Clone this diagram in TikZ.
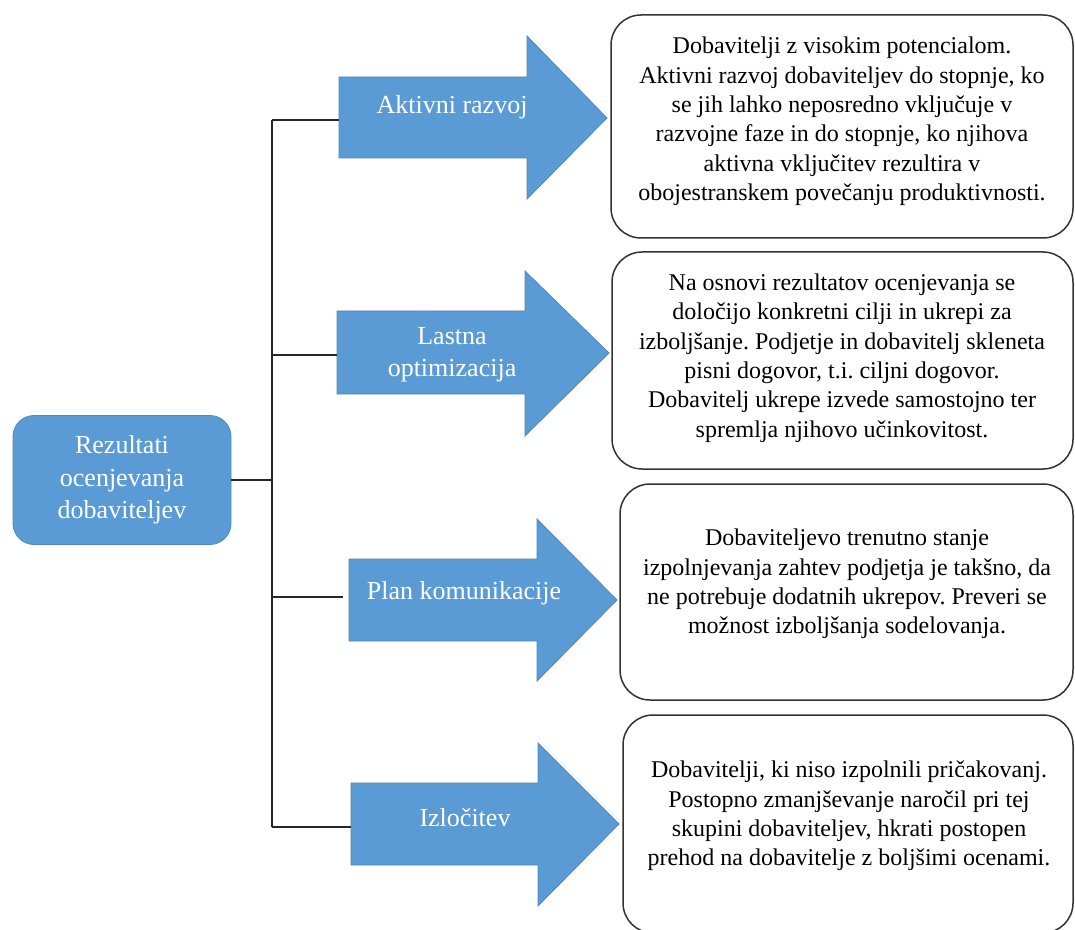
\documentclass[tikz,border=0pt]{standalone}
\usepackage{fontspec}
\setmainfont{Liberation Serif}
\frenchspacing
\definecolor{officeblue}{HTML}{5B9BD5}
\definecolor{boxline}{HTML}{333333}
\begin{document}
\begin{tikzpicture}[x=0.5pt,y=-0.5pt,
  bluefill/.style={fill=officeblue, draw=officeblue!88!black, line width=0.4pt},
  srcbox/.style={bluefill, rounded corners=10.5pt, inner sep=0pt, align=center,
    text=white, font={\fontsize{13}{16.25}\selectfont}},
  arrowtext/.style={text=white, align=center, inner sep=0pt,
    font={\fontsize{13}{16.25}\selectfont}},
  descbox/.style={draw=boxline, line width=0.75pt, fill=white, rounded corners=15pt, inner sep=0pt},
  desc/.style={align=center, inner sep=0pt, font={\fontsize{12}{14.7}\selectfont}},
  conn/.style={draw=black!85, line width=0.9pt}]
\useasboundingbox (0,0) rectangle (1075,930);
\clip (0,0) rectangle (1075,930);

% source box
\node[srcbox, minimum width=109pt, minimum height=64.5pt] (src) at (122,480)
  {Rezultati\\ocenjevanja\\dobaviteljev};

% junctions on the trunk and arrow tails
\coordinate (j1) at (272,120);
\coordinate (j2) at (272,355);
\coordinate (j3) at (272,597);
\coordinate (j4) at (272,827);
\coordinate (a1) at (339,120);
\coordinate (a2) at (337,355);
\coordinate (a3) at (343,597);
\coordinate (a4) at (351,827);

% block arrows
\path[bluefill] (339,77) -- (527,77) -- (527,36) -- (607,118) -- (527,199) -- (527,158) -- (339,158) -- cycle;
\path[bluefill] (337,311) -- (525,311) -- (525,271) -- (609,353) -- (525,436) -- (525,394) -- (337,394) -- cycle;
\path[bluefill] (349,559) -- (537,559) -- (537,519) -- (617,600) -- (537,681) -- (537,641) -- (349,641) -- cycle;
\path[bluefill] (351,783) -- (538,783) -- (538,743) -- (619,824) -- (538,906) -- (538,865) -- (351,865) -- cycle;

\node[arrowtext] (l1) at (452,107) {Aktivni razvoj};
\node[arrowtext] (l2) at (452,355) {Lastna\\optimizacija};
\node[arrowtext] (l3) at (464,593) {Plan komunikacije};
\node[arrowtext] (l4) at (465,818) {Izločitev};

% connectors
\draw[conn] (src.east) -- (src.east -| j1);
\draw[conn] (j1) -- (j4);
\draw[conn] (j1) -- (a1);
\draw[conn] (j2) -- (a2);
\draw[conn] (j3) -- (a3);
\draw[conn] (j4) -- (a4);

% description boxes
\node[descbox, minimum width=231pt, minimum height=111.5pt] (b1) at (842,126.5) {};
\node[descbox, minimum width=230.5pt, minimum height=108.5pt] (b2) at (842.5,360.5) {};
\node[descbox, minimum width=226.5pt, minimum height=108pt] (b3) at (846.5,592) {};
\node[descbox, minimum width=225pt, minimum height=109pt] (b4) at (848,824) {};

\node[desc] (d1) at (842,121.5) {Dobavitelji z visokim potencialom.\\
  Aktivni razvoj dobaviteljev do stopnje, ko\\
  se jih lahko neposredno vključuje v\\
  razvojne faze in do stopnje, ko njihova\\
  aktivna vključitev rezultira v\\
  obojestranskem povečanju produktivnosti.};
\node[desc] (d2) at (842,358) {Na osnovi rezultatov ocenjevanja se\\
  določijo konkretni cilji in ukrepi za\\
  izboljšanje. Podjetje in dobavitelj skleneta\\
  pisni dogovor, t.i. ciljni dogovor.\\
  Dobavitelj ukrepe izvede samostojno ter\\
  spremlja njihovo učinkovitost.};
\node[desc] (d3) at (847,584) {Dobaviteljevo trenutno stanje\\
  izpolnjevanja zahtev podjetja je takšno, da\\
  ne potrebuje dodatnih ukrepov. Preveri se\\
  možnost izboljšanja sodelovanja.};
\node[desc] (d4) at (849,816) {Dobavitelji, ki niso izpolnili pričakovanj.\\
  Postopno zmanjševanje naročil pri tej\\
  skupini dobaviteljev, hkrati postopen\\
  prehod na dobavitelje z boljšimi ocenami.};
\end{tikzpicture}
\end{document}
